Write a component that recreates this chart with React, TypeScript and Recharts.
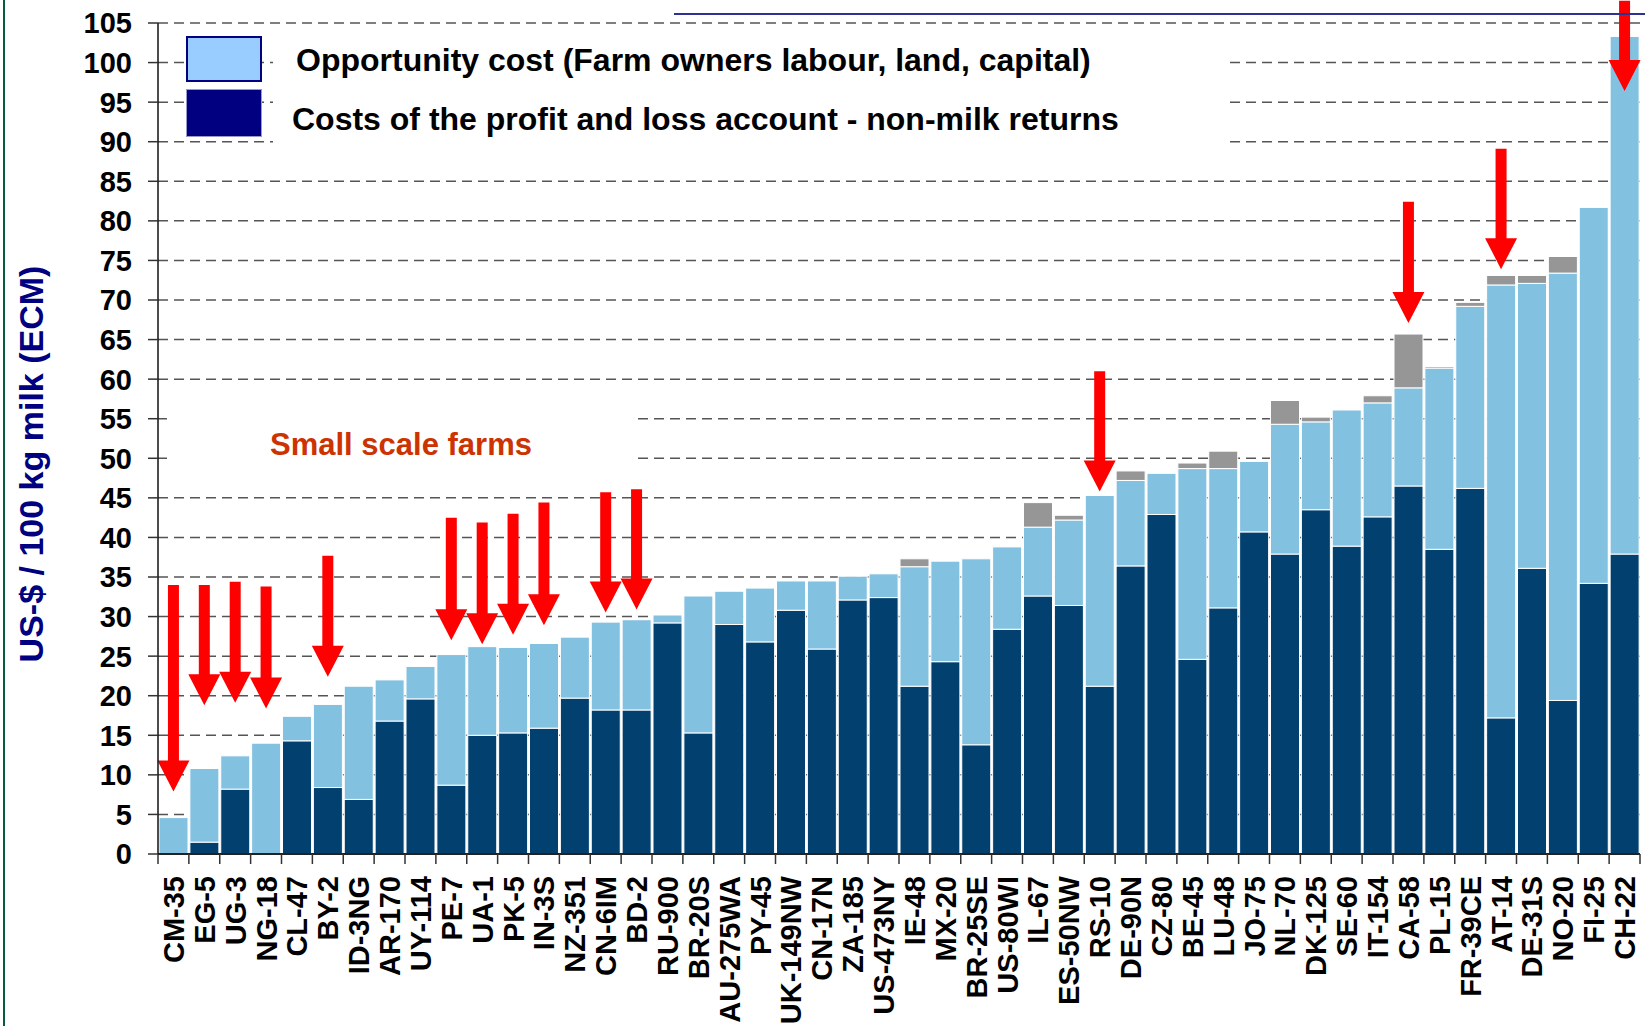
import React from 'react';
import { BarChart, Bar, XAxis, YAxis, CartesianGrid, ReferenceLine } from 'recharts';

const farms = [
  'CM-35', 'EG-5', 'UG-3', 'NG-18', 'CL-47', 'BY-2', 'ID-3NG', 'AR-170', 'UY-114', 'PE-7',
  'UA-1', 'PK-5', 'IN-3S', 'NZ-351', 'CN-6IM', 'BD-2', 'RU-900', 'BR-20S', 'AU-275WA', 'PY-45',
  'UK-149NW', 'CN-17N', 'ZA-185', 'US-473NY', 'IE-48', 'MX-20', 'BR-25SE', 'US-80WI', 'IL-67', 'ES-50NW',
  'RS-10', 'DE-90N', 'CZ-80', 'BE-45', 'LU-48', 'JO-75', 'NL-70', 'DK-125', 'SE-60', 'IT-154',
  'CA-58', 'PL-15', 'FR-39CE', 'AT-14', 'DE-31S', 'NO-20', 'FI-25', 'CH-22',
];

// Costs of the profit and loss account - non-milk returns (dark)
const plCosts = [
  0, 1.5, 8.2, 0, 14.3, 8.4, 6.9, 16.8, 19.6, 8.7,
  15.0, 15.3, 15.9, 19.7, 18.2, 18.2, 29.2, 15.3, 29.0, 26.8,
  30.8, 25.9, 32.1, 32.4, 21.2, 24.3, 13.8, 28.4, 32.6, 31.4,
  21.2, 36.4, 42.9, 24.6, 31.1, 40.7, 37.9, 43.5, 38.9, 42.6,
  46.5, 38.5, 46.2, 17.2, 36.1, 19.4, 34.2, 37.9,
];

// Opportunity cost (light)
const opportunityCost = [
  4.6, 9.3, 4.2, 14.0, 3.1, 10.5, 14.3, 5.2, 4.1, 16.5,
  11.2, 10.8, 10.7, 7.7, 11.1, 11.4, 1.0, 17.3, 4.2, 6.8,
  3.7, 8.6, 3.0, 3.0, 15.1, 12.7, 23.5, 10.4, 8.7, 10.8,
  24.1, 10.8, 5.2, 24.1, 17.6, 8.9, 16.4, 11.1, 17.2, 14.4,
  12.4, 22.9, 23.0, 54.7, 36.0, 54.0, 47.5, 65.4,
];

// Remaining (grey) part
const otherCost = [
  0, 0, 0, 0, 0, 0, 0, 0, 0, 0,
  0, 0, 0, 0, 0, 0, 0, 0, 0, 0,
  0, 0, 0, 0, 1.0, 0, 0, 0, 3.1, 0.6,
  0, 1.2, 0, 0.7, 2.2, 0, 3.0, 0.6, 0, 0.9,
  6.8, 0.2, 0.5, 1.2, 1.0, 2.1, 0, 0,
];

const yTicks = [0, 5, 10, 15, 20, 25, 30, 35, 40, 45, 50, 55, 60, 65, 70, 75, 80, 85, 90, 95, 100, 105];

// Red arrows: farm, start value (top), tip value
const arrowFarms = ['CM-35', 'EG-5', 'UG-3', 'NG-18', 'BY-2', 'PE-7', 'UA-1', 'PK-5', 'IN-3S', 'CN-6IM', 'BD-2', 'RS-10', 'CA-58', 'AT-14', 'CH-22'];
const arrowFrom = [34.0, 34.0, 34.4, 33.8, 37.7, 42.5, 41.9, 43.0, 44.4, 45.7, 46.1, 61.0, 82.4, 89.1, 107.8];
const arrowTo = [7.9, 18.8, 19.1, 18.4, 22.4, 27.0, 26.5, 27.7, 28.9, 30.5, 30.9, 45.8, 67.1, 73.9, 96.4];

const legendLabels = [
  'Opportunity cost (Farm owners labour, land, capital)',
  'Costs of the profit and loss account - non-milk returns',
];
const yTitle = 'US-$ / 100 kg milk (ECM)';
const noteText = 'Small scale farms';

const data = farms.map((farm, i) => ({
  farm,
  pl: plCosts[i],
  opp: opportunityCost[i],
  other: otherCost[i],
}));

const FONT = '"Liberation Sans", Arial, sans-serif';

const makeShape = (fill: string) => (p: any) => {
  if (!p || !(p.height > 0.01)) return <g />;
  return (
    <rect x={p.x} y={p.y} width={p.width} height={p.height} fill={fill} stroke="#ffffff" strokeWidth={1} />
  );
};

const Arrow = (p: any) => {
  const { x1, y1, y2 } = p;
  if (![x1, y1, y2].every((v) => Number.isFinite(v))) return <g />;
  const sh = 5.5;
  const hh = 16;
  const headH = 31;
  const neck = y2 - headH;
  const pts = [
    [x1 - sh, y1], [x1 + sh, y1], [x1 + sh, neck], [x1 + hh, neck], [x1, y2], [x1 - hh, neck], [x1 - sh, neck],
  ].map((q) => q.join(',')).join(' ');
  return <polygon points={pts} fill="#FF0000" />;
};

const XTick = (p: any) => {
  const { x, y, payload, index, width, visibleTicksCount } = p;
  let half = payload && payload.offset ? payload.offset : 0;
  if (!half && width && visibleTicksCount) half = width / visibleTicksCount / 2;
  const isLast = index === visibleTicksCount - 1;
  return (
    <g>
      <line x1={x - half} y1={y} x2={x - half} y2={y + 10} stroke="#333" strokeWidth={1.5} />
      {isLast && <line x1={x + half} y1={y} x2={x + half} y2={y + 10} stroke="#333" strokeWidth={1.5} />}
      <text
        transform={`translate(${x},${y + 22}) rotate(-90)`}
        textAnchor="end"
        dy="0.36em"
        fontFamily={FONT}
        fontWeight="bold"
        fontSize={29}
        fill="#000"
      >
        {payload.value}
      </text>
    </g>
  );
};

const YTick = (p: any) => {
  const { x, y, payload } = p;
  return (
    <g>
      <line x1={x - 10} y1={y} x2={x} y2={y} stroke="#333" strokeWidth={1.5} />
      <text x={x - 26} y={y} dy="0.36em" textAnchor="end" fontFamily={FONT} fontWeight="bold" fontSize={29} fill="#000">
        {payload.value}
      </text>
    </g>
  );
};

export default function App() {
  return (
    <div
      style={{
        position: 'absolute',
        left: 0,
        top: 0,
        width: 1645,
        height: 1026,
        background: '#ffffff',
        fontFamily: FONT,
        overflow: 'hidden',
      }}
    >
      <BarChart
        width={1645}
        height={1026}
        data={data}
        margin={{ top: 23, right: 5, bottom: 0, left: 0 }}
        barCategoryGap={1}
      >
        <CartesianGrid vertical={false} stroke="#555" strokeDasharray="10 6" strokeWidth={1.5} />
        <XAxis
          dataKey="farm"
          interval={0}
          height={172}
          tickSize={0}
          tickMargin={0}
          tickLine={false}
          axisLine={{ stroke: '#222', strokeWidth: 2 }}
          tick={<XTick />}
        />
        <YAxis
          domain={[0, 105]}
          ticks={yTicks}
          interval={0}
          width={158}
          tickSize={0}
          tickMargin={0}
          tickLine={false}
          axisLine={{ stroke: '#111', strokeWidth: 1.5 }}
          tick={<YTick />}
        />
        <YAxis
          yAxisId="r"
          orientation="right"
          domain={[0, 105]}
          width={0}
          tick={false}
          tickLine={false}
          axisLine={{ stroke: '#888', strokeWidth: 1.5 }}
        />
        <Bar dataKey="pl" stackId="a" fill="#02406F" shape={makeShape('#02406F')} isAnimationActive={false} />
        <Bar dataKey="opp" stackId="a" fill="#83C1E0" shape={makeShape('#83C1E0')} isAnimationActive={false} />
        <Bar dataKey="other" stackId="a" fill="#969696" shape={makeShape('#969696')} isAnimationActive={false} />
        {arrowFarms.map((f, i) => (
          <ReferenceLine
            key={f}
            segment={[{ x: f, y: arrowFrom[i] }, { x: f, y: arrowTo[i] }]}
            ifOverflow="visible"
            shape={Arrow}
          />
        ))}
      </BarChart>

      {/* slide decorations */}
      <div style={{ position: 'absolute', left: 3, top: 0, width: 2, height: 1026, background: '#0B5A3C' }} />
      <div style={{ position: 'absolute', left: 674, top: 13, width: 971, height: 2, background: '#2E3192' }} />

      {/* legend */}
      <div style={{ position: 'absolute', left: 273, top: 32, width: 955, height: 128, background: '#fff' }} />
      <div
        style={{
          position: 'absolute', left: 186, top: 36, width: 72, height: 42,
          background: '#99CCFF', border: '2px solid #000080',
        }}
      />
      <div
        style={{
          position: 'absolute', left: 186, top: 89, width: 74, height: 46,
          background: '#000080', border: '1px solid #9999CC',
        }}
      />
      <div
        style={{
          position: 'absolute', left: 296, top: 44, fontSize: 32, lineHeight: '32px',
          fontWeight: 'bold', color: '#000', whiteSpace: 'nowrap',
        }}
      >
        {legendLabels[0]}
      </div>
      <div
        style={{
          position: 'absolute', left: 292, top: 103, fontSize: 32, lineHeight: '32px',
          fontWeight: 'bold', color: '#000', whiteSpace: 'nowrap',
        }}
      >
        {legendLabels[1]}
      </div>

      {/* small scale farms note */}
      <div style={{ position: 'absolute', left: 167, top: 405, width: 469, height: 62, background: '#fff' }} />
      <div
        style={{
          position: 'absolute', left: 270, top: 429, fontSize: 31, lineHeight: '31px',
          fontWeight: 'bold', color: '#CC3300', whiteSpace: 'nowrap',
        }}
      >
        {noteText}
      </div>

      {/* y axis title */}
      <div
        style={{
          position: 'absolute', left: 31, top: 464, transform: 'translate(-50%, -50%) rotate(-90deg)',
          fontSize: 34, lineHeight: '34px', fontWeight: 'bold', color: '#000080', whiteSpace: 'nowrap',
        }}
      >
        {yTitle}
      </div>
    </div>
  );
}
